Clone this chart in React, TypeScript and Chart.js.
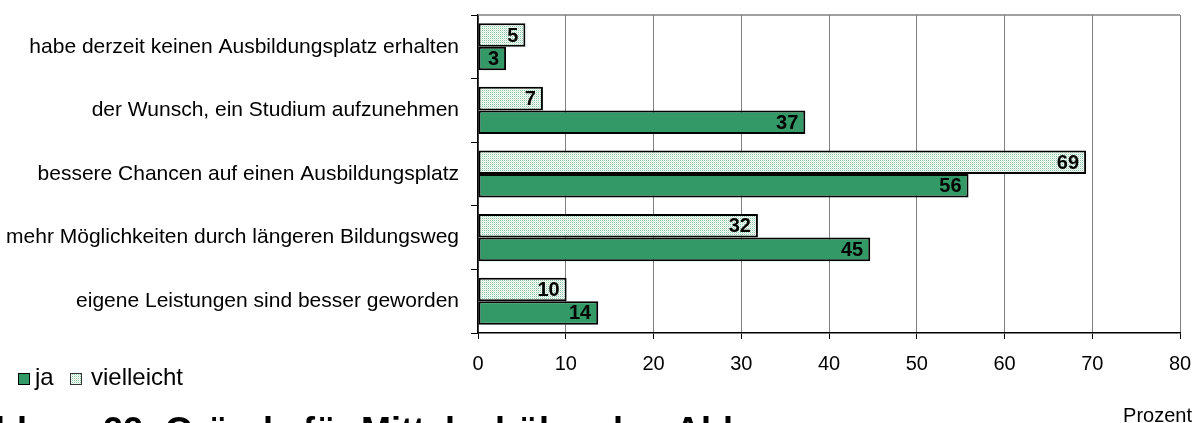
import React, { useEffect, useRef } from "react";
import { Chart, registerables } from "chart.js";

Chart.register(...registerables);

const categories = [
  "habe derzeit keinen Ausbildungsplatz erhalten",
  "der Wunsch, ein Studium aufzunehmen",
  "bessere Chancen auf einen Ausbildungsplatz",
  "mehr Möglichkeiten durch längeren Bildungsweg",
  "eigene Leistungen sind besser geworden",
];
const jaValues = [3.2, 37.3, 55.9, 44.7, 13.7];
const vielleichtValues = [5.4, 7.4, 69.3, 31.9, 10.1];
const seriesNames = ["ja", "vielleicht"];
const xMin = 0;
const xMax = 80;
const xStep = 10;
const axisTitle = "Prozent";
const caption = "Abbildung 22: Gründe für Mittelschüler, den Abl";

const FONT = '"Liberation Sans", Arial, Helvetica, sans-serif';
const JA_COLOR = "#339966";

function makePattern(): CanvasPattern | string {
  const c = document.createElement("canvas");
  c.width = 2;
  c.height = 2;
  const ctx = c.getContext("2d");
  if (!ctx) return "#cfe8d8";
  ctx.fillStyle = "#ffffff";
  ctx.fillRect(0, 0, 2, 2);
  ctx.fillStyle = "#86c4a0";
  ctx.fillRect(0, 0, 1, 1);
  ctx.fillStyle = "#d4ecdc";
  ctx.fillRect(1, 1, 1, 1);
  const p = ctx.createPattern(c, "repeat");
  return p || "#cfe8d8";
}

export default function App() {
  const ref = useRef<HTMLCanvasElement | null>(null);

  useEffect(() => {
    document.body.style.margin = "0";
    document.body.style.overflow = "hidden";
    const canvas = ref.current;
    if (!canvas) return;
    const pattern = makePattern();

    const extras = {
      id: "extras",
      afterDatasetsDraw(chart: any) {
        const ctx = chart.ctx;
        ctx.save();
        ctx.font = `bold 20px ${FONT}`;
        ctx.fillStyle = "#000";
        ctx.textAlign = "right";
        ctx.textBaseline = "middle";
        chart.data.datasets.forEach((ds: any, di: number) => {
          const meta = chart.getDatasetMeta(di);
          meta.data.forEach((bar: any, i: number) => {
            const v = Math.round(ds.data[i]);
            ctx.fillText(String(v), bar.x - 7, bar.y + 1);
          });
        });
        ctx.restore();
      },
      afterDraw(chart: any) {
        const ctx = chart.ctx;
        const a = chart.chartArea;
        ctx.save();
        // top border
        ctx.strokeStyle = "#808080";
        ctx.lineWidth = 1.5;
        ctx.beginPath();
        ctx.moveTo(a.left, a.top);
        ctx.lineTo(a.right, a.top);
        ctx.stroke();

        // legend
        ctx.lineWidth = 1;
        ctx.strokeStyle = "#000";
        ctx.fillStyle = JA_COLOR;
        ctx.fillRect(18.5, 373.5, 11, 11);
        ctx.strokeRect(18.5, 373.5, 11, 11);
        ctx.fillStyle = pattern as any;
        ctx.fillRect(70.5, 373.5, 11, 11);
        ctx.strokeStyle = "#333";
        ctx.strokeRect(70.5, 373.5, 11, 11);
        ctx.fillStyle = "#000";
        ctx.font = `24px ${FONT}`;
        ctx.textAlign = "left";
        ctx.textBaseline = "alphabetic";
        ctx.fillText(seriesNames[0], 35, 385);
        ctx.fillText(seriesNames[1], 91, 385);

        // axis title
        ctx.font = `20px ${FONT}`;
        ctx.textAlign = "right";
        ctx.fillText(axisTitle, 1192, 422);

        // caption (clipped by canvas bottom)
        ctx.font = `bold 36px ${FONT}`;
        ctx.textAlign = "left";
        ctx.fillText(caption, -85, 443);
        ctx.restore();
      },
    };

    const chart = new Chart(canvas, {
      type: "bar",
      data: {
        labels: categories,
        datasets: [
          {
            label: seriesNames[1],
            data: vielleichtValues,
            backgroundColor: pattern as any,
            borderColor: "#000",
            borderWidth: 2,
            borderSkipped: false,
            categoryPercentage: 0.74,
            barPercentage: 1,
          },
          {
            label: seriesNames[0],
            data: jaValues,
            backgroundColor: JA_COLOR,
            borderColor: "#000",
            borderWidth: 2,
            borderSkipped: false,
            categoryPercentage: 0.74,
            barPercentage: 1,
          },
        ],
      },
      options: {
        indexAxis: "y",
        responsive: false,
        animation: false,
        devicePixelRatio: 1,
        layout: { padding: { top: 15, right: 21, left: 0, bottom: 0 } },
        plugins: {
          legend: { display: false },
          tooltip: { enabled: false },
          title: { display: false },
        },
        scales: {
          x: {
            type: "linear",
            min: xMin,
            max: xMax,
            ticks: {
              stepSize: xStep,
              color: "#000",
              font: { family: FONT, size: 20 },
              padding: 13,
            },
            grid: {
              color: "#808080",
              lineWidth: 1,
              tickColor: "#000",
              tickLength: 6,
            },
            border: { color: "#000", width: 1.5 },
            afterFit(s: any) {
              s.height = 90;
              s.paddingLeft = 0;
              s.paddingRight = 0;
            },
          },
          y: {
            type: "category",
            ticks: {
              color: "#000",
              font: { family: FONT, size: 21 },
              padding: 12,
              autoSkip: false,
            },
            grid: {
              drawOnChartArea: false,
              offset: true,
              tickColor: "#000",
              tickLength: 7,
            },
            border: { color: "#000", width: 1.5 },
            afterFit(s: any) {
              s.width = 478;
              s.paddingTop = 0;
              s.paddingBottom = 0;
            },
          },
        },
      },
      plugins: [extras],
    } as any);

    return () => chart.destroy();
  }, []);

  return (
    <div style={{ width: 1201, height: 423, position: "relative", background: "#fff" }}>
      <canvas ref={ref} width={1201} height={423} style={{ display: "block" }} />
    </div>
  );
}
